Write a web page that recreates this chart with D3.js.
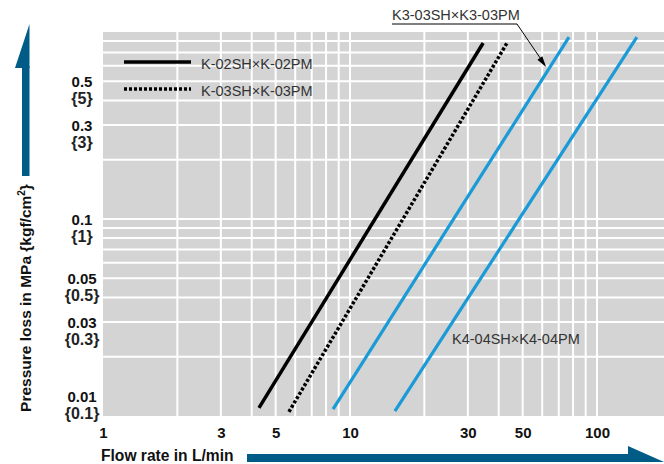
<!DOCTYPE html>
<html>
<head>
<meta charset="utf-8">
<script src="https://cdn.jsdelivr.net/npm/d3@7"></script>
<style>
  html, body { margin: 0; padding: 0; background: #fff; }
  svg { display: block; }
  text { font-family: "Liberation Sans", Arial, sans-serif; }
</style>
</head>
<body>
<svg id="chart" width="664" height="464"></svg>
<script>
// Pressure loss vs flow rate for coupler sets (log-log)
const flowTicks = [1, 3, 5, 10, 30, 50, 100];
const lossTicks = [0.5, 0.3, 0.1, 0.05, 0.03, 0.01];
const lossTicksKgf = ["{5}", "{3}", "{1}", "{0.5}", "{0.3}", "{0.1}"];

const seriesNames = ["K-02SH×K-02PM", "K-03SH×K-03PM", "K3-03SH×K3-03PM", "K4-04SH×K4-04PM"];
// flow rate (L/min) and pressure loss (MPa) at the ends of each curve
const flowK02 = [4.28, 34.6];
const lossK02 = [0.0110, 0.782];
const flowK03 = [5.66, 43.2];
const lossK03 = [0.0105, 0.782];
const flowK3 = [8.54, 77.0];
const lossK3 = [0.01085, 0.839];
const flowK4 = [15.2, 145];
const lossK4 = [0.0106, 0.839];

const svg = d3.select("#chart");
const plotLeft = 103, plotRight = 664, plotTop = 30, plotBottom = 416;

const x = d3.scaleLog().domain([1, 100]).range([plotLeft, 597]);
const y = d3.scaleLog().domain([0.01, 1]).range([plotBottom, 22]);

const blue = "#1a9ad6";
const arrowBlue = "#005b86";

// plot background
svg.append("rect")
  .attr("x", plotLeft).attr("y", plotTop)
  .attr("width", plotRight - plotLeft).attr("height", plotBottom - plotTop)
  .attr("fill", "#d4d4d4");

// minor grid: every integer multiple within each decade
const xGrid = [];
[1, 10, 100].forEach(dec => { for (let m = 1; m <= 9; m++) xGrid.push(m * dec); });
const xGridVis = xGrid.filter(v => v > 1 && x(v) < plotRight);
const yGrid = [];
[0.01, 0.1].forEach(dec => { for (let m = 1; m <= 9; m++) yGrid.push(m * dec); });
const yGridVis = yGrid.filter(v => v > 0.01 && y(v) > plotTop);

const grid = svg.append("g").attr("stroke", "#fff").attr("stroke-width", 2);
grid.selectAll("line.h").data(yGridVis).join("line")
  .attr("class", "h")
  .attr("x1", plotLeft).attr("x2", plotRight)
  .attr("y1", d => y(d)).attr("y2", d => y(d));
grid.selectAll("line.v").data(xGridVis).join("line")
  .attr("class", "v")
  .attr("y1", plotTop).attr("y2", plotBottom)
  .attr("x1", d => x(d)).attr("x2", d => x(d));

// x axis labels
const xAxis = svg.append("g")
  .attr("transform", `translate(0,${plotBottom})`)
  .call(d3.axisBottom(x).tickValues(flowTicks).tickSize(0).tickPadding(11).tickFormat(d3.format("d")));
xAxis.select(".domain").remove();
xAxis.selectAll("text")
  .attr("font-family", "Liberation Sans, Arial, sans-serif")
  .attr("font-size", 15).attr("font-weight", "bold").attr("fill", "#111");

// y axis labels: MPa with kgf/cm2 below
const yAxis = svg.append("g")
  .attr("transform", `translate(${plotLeft},0)`)
  .call(d3.axisLeft(y).tickValues(lossTicks).tickSize(0).tickFormat(d => String(d)));
yAxis.select(".domain").remove();
yAxis.selectAll(".tick text").each(function (d) {
  const t = d3.select(this);
  const shift = Math.min(0, (plotBottom - 20) - y(d));
  t.text(null)
    .attr("x", -21).attr("y", shift).attr("dy", null)
    .attr("text-anchor", "middle")
    .attr("font-family", "Liberation Sans, Arial, sans-serif")
    .attr("fill", "#111");
  t.append("tspan").attr("x", -21).attr("dy", "0.36em")
    .attr("font-size", 15).attr("font-weight", "bold")
    .text(String(d));
  t.append("tspan").attr("x", -21).attr("dy", 17)
    .attr("font-family", "Liberation Sans Narrow, Liberation Sans, Arial, sans-serif")
    .attr("font-size", 16).attr("font-weight", "bold").attr("fill", "#222")
    .text(lossTicksKgf[lossTicks.indexOf(d)]);
});

// curves
const line = d3.line().x(d => x(d[0])).y(d => y(d[1]));
const curves = [
  { name: seriesNames[0], pts: d3.zip(flowK02, lossK02), color: "#000", dash: null, width: 3.5 },
  { name: seriesNames[1], pts: d3.zip(flowK03, lossK03), color: "#000", dash: "3,2", width: 3.5 },
  { name: seriesNames[2], pts: d3.zip(flowK3, lossK3), color: blue, dash: null, width: 3.2 },
  { name: seriesNames[3], pts: d3.zip(flowK4, lossK4), color: blue, dash: null, width: 3.2 }
];
svg.append("g").selectAll("path").data(curves).join("path")
  .attr("d", d => line(d.pts))
  .attr("fill", "none")
  .attr("stroke", d => d.color)
  .attr("stroke-width", d => d.width)
  .attr("stroke-dasharray", d => d.dash);

// legend for the black curves
const legend = svg.append("g");
[0, 1].forEach((k, i) => {
  const ly = 62 + i * 27;
  legend.append("line")
    .attr("x1", 124).attr("x2", 191).attr("y1", ly).attr("y2", ly)
    .attr("stroke", "#000").attr("stroke-width", 3.5)
    .attr("stroke-dasharray", curves[k].dash);
  legend.append("text")
    .attr("x", 201).attr("y", ly + 2).attr("dy", "0.35em")
    .attr("font-size", 14.5).attr("fill", "#333")
    .text(curves[k].name);
});

// callout for K3 curve
const tipLoss = 0.57;
const k3Slope = Math.log(lossK3[1] / lossK3[0]) / Math.log(flowK3[1] / flowK3[0]);
const tipFlow = flowK3[0] * Math.pow(tipLoss / lossK3[0], 1 / k3Slope);
const tipX = x(tipFlow), tipY = y(tipLoss);
svg.append("text")
  .attr("x", 392).attr("y", 15).attr("dy", "0.35em")
  .attr("font-size", 14.5).attr("fill", "#333")
  .text(seriesNames[2]);
svg.append("polyline")
  .attr("points", `392,24 517,24 ${tipX - 3},${tipY - 5}`)
  .attr("fill", "none").attr("stroke", "#000").attr("stroke-width", 1);
{
  const ang = Math.atan2(tipY - 24, tipX - 517);
  const len = 11, half = 3;
  const bx = tipX - 2 - len * Math.cos(ang), by = tipY - 3 - len * Math.sin(ang);
  const px = -Math.sin(ang) * half, py = Math.cos(ang) * half;
  svg.append("path")
    .attr("d", `M${tipX - 2},${tipY - 3}L${bx + px},${by + py}L${bx - px},${by - py}Z`)
    .attr("fill", "#000");
}

// label for K4 curve
svg.append("text")
  .attr("x", 452).attr("y", 339).attr("dy", "0.35em")
  .attr("font-size", 14.5).attr("fill", "#333")
  .text(seriesNames[3]);

// axis titles with arrows
svg.append("text")
  .attr("x", 101).attr("y", 456).attr("dy", "0.35em")
  .attr("font-size", 15.6).attr("font-weight", "bold").attr("fill", "#111")
  .text("Flow rate in L/min");
svg.append("rect").attr("x", 247).attr("y", 454).attr("width", 385).attr("height", 8).attr("fill", arrowBlue);
svg.append("path").attr("d", "M628,446L664,462L628,462Z").attr("fill", arrowBlue);

const yTitle = svg.append("text")
  .attr("transform", "translate(26,298) rotate(-90)")
  .attr("text-anchor", "middle").attr("dy", "0.35em")
  .attr("font-size", 15.5).attr("font-weight", "bold").attr("fill", "#111");
yTitle.append("tspan").text("Pressure loss in MPa {kgf/cm");
yTitle.append("tspan").attr("font-size", 10).attr("dy", -6).text("2");
yTitle.append("tspan").attr("dy", 6).text("}");
svg.append("rect").attr("x", 22).attr("y", 66).attr("width", 7.5).attr("height", 110).attr("fill", arrowBlue);
svg.append("path").attr("d", "M29.5,24L29.5,68L15,68Z").attr("fill", arrowBlue);
</script>
</body>
</html>
